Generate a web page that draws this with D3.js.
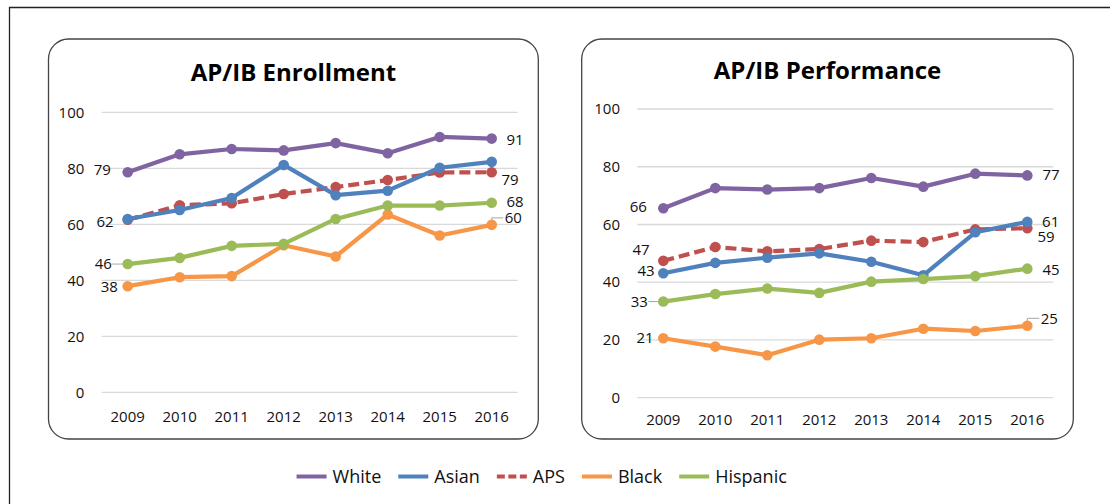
<!DOCTYPE html>
<html>
<head>
    <title>AP/IB Enrollment and Performance</title>
    <script src="https://d3js.org/d3.v7.min.js"></script>
    <style>
        body { margin: 0; background: #fff; }
        text { font-family: "Open Sans", sans-serif; fill: #111; }
    </style>
</head>
<body>
    <div id="chart"></div>

    <script>
        const years = ["2009", "2010", "2011", "2012", "2013", "2014", "2015", "2016"];
        const seriesNames = ["White", "Asian", "APS", "Black", "Hispanic"];
        const seriesColors = ["#8064A2", "#4F81BD", "#C0504D", "#F79646", "#9BBB59"];
        const yTicks = [0, 20, 40, 60, 80, 100];

        // AP/IB Enrollment (%)
        const enrollWhite    = [78.6, 85.0, 86.9, 86.4, 89.0, 85.4, 91.2, 90.6];
        const enrollAsian    = [61.9, 65.1, 69.4, 81.2, 70.4, 72.0, 80.2, 82.3];
        const enrollAPS      = [61.6, 66.8, 67.5, 70.8, 73.3, 75.8, 78.5, 78.6];
        const enrollBlack    = [37.9, 41.1, 41.5, 52.5, 48.5, 63.5, 56.0, 59.8];
        const enrollHispanic = [45.8, 48.0, 52.3, 53.0, 61.9, 66.7, 66.7, 67.7];

        // AP/IB Performance (%)
        const perfWhite    = [65.6, 72.6, 72.1, 72.6, 76.1, 73.1, 77.6, 77.0];
        const perfAsian    = [43.1, 46.7, 48.5, 50.0, 47.1, 42.4, 57.3, 60.9];
        const perfAPS      = [47.4, 52.2, 50.7, 51.5, 54.4, 53.9, 58.3, 58.7];
        const perfBlack    = [20.6, 17.7, 14.7, 20.1, 20.6, 23.9, 23.1, 24.9];
        const perfHispanic = [33.3, 35.9, 37.8, 36.3, 40.2, 41.1, 42.1, 44.7];

        const W = 1110, H = 504;

        const svg = d3.select("#chart").append("svg")
            .attr("width", W)
            .attr("height", H);

        // outer frame (open on the right and bottom)
        svg.append("path")
            .attr("d", "M9.5,504 V7.5 H1110")
            .attr("fill", "none")
            .attr("stroke", "#222")
            .attr("stroke-width", 1.3);

        // draw order: APS under Asian
        const drawOrder = [0, 2, 1, 3, 4];

        // label placement: [series index, which end, dx, dy, leader]
        const charts = [
            {
                title: "AP/IB Enrollment",
                series: [enrollWhite, enrollAsian, enrollAPS, enrollBlack, enrollHispanic],
                panel: {x: 48.5, y: 39, w: 489.8, h: 400},
                titleY: 80.5,
                xRange: [101.7, 517.7],
                yRange: [392.3, 112.3],
                tickX: 84.3,
                axisY: 421.5,
                labels: [
                    [0, 0, -25.4, -2, null], [2, 0, -22.7, 2, null],
                    [4, 0, -24.4, 0, "h"], [3, 0, -18.4, 0.5, null],
                    [0, 7, 23.3, 1.4, null], [2, 7, 18.3, 8, null],
                    [4, 7, 23.3, -0.5, null], [3, 7, 21.6, -7, "l"]
                ]
            },
            {
                title: "AP/IB Performance",
                series: [perfWhite, perfAsian, perfAPS, perfBlack, perfHispanic],
                panel: {x: 581.7, y: 39, w: 491.6, h: 400},
                titleY: 78.5,
                xRange: [637.3, 1053.3],
                yRange: [397.7, 109],
                tickX: 620,
                axisY: 425,
                labels: [
                    [0, 0, -25, -1.6, null], [2, 0, -22.3, -11.6, null],
                    [1, 0, -17.3, -2.3, null], [4, 0, -24, 0, "h"],
                    [3, 0, -18.3, -0.5, null],
                    [0, 7, 23.7, -1, null], [1, 7, 23.4, 0.3, null],
                    [2, 7, 18.7, 8.5, null], [4, 7, 23.7, 1.4, null],
                    [3, 7, 22, -7.5, "l"]
                ]
            }
        ];

        charts.forEach(c => {
            const g = svg.append("g");

            g.append("rect")
                .attr("x", c.panel.x).attr("y", c.panel.y)
                .attr("width", c.panel.w).attr("height", c.panel.h)
                .attr("rx", 20).attr("ry", 20)
                .attr("fill", "#fff")
                .attr("stroke", "#444")
                .attr("stroke-width", 1.3);

            g.append("text")
                .attr("x", c.panel.x + c.panel.w / 2)
                .attr("y", c.titleY)
                .attr("text-anchor", "middle")
                .style("font-size", "24px")
                .style("font-weight", "bold")
                .style("fill", "#000")
                .text(c.title);

            const x = d3.scaleBand()
                .domain(years)
                .range(c.xRange);
            const y = d3.scaleLinear()
                .domain([0, 100])
                .range(c.yRange);
            const cx = d => x(d) + x.bandwidth() / 2;

            // gridlines
            g.selectAll(".grid")
                .data(yTicks)
                .enter().append("line")
                .attr("x1", c.xRange[0]).attr("x2", c.xRange[1])
                .attr("y1", d => y(d)).attr("y2", d => y(d))
                .attr("stroke", "#d9d9d9")
                .attr("stroke-width", 1.3);

            // y tick labels
            g.selectAll(".ytick")
                .data(yTicks)
                .enter().append("text")
                .attr("x", c.tickX)
                .attr("y", d => y(d))
                .attr("dy", "0.35em")
                .attr("text-anchor", "end")
                .style("font-size", "15px")
                .text(d => d);

            // x tick labels
            g.selectAll(".xtick")
                .data(years)
                .enter().append("text")
                .attr("x", d => cx(d))
                .attr("y", c.axisY)
                .attr("text-anchor", "middle")
                .style("font-size", "15px")
                .text(d => d);

            const line = d3.line()
                .x((d, i) => cx(years[i]))
                .y(d => y(d));

            // leader lines (drawn under markers)
            c.labels.forEach(([s, i, dx, dy, leader]) => {
                if (!leader) return;
                const px = cx(years[i]), py = y(c.series[s][i]);
                if (leader === "h") {
                    g.append("line")
                        .attr("x1", px + dx + 9).attr("x2", px)
                        .attr("y1", py + dy).attr("y2", py + dy)
                        .attr("stroke", "#a6a6a6").attr("stroke-width", 1);
                } else {
                    g.append("path")
                        .attr("d", `M${px},${py} V${py + dy} H${px + dx - 10}`)
                        .attr("fill", "none")
                        .attr("stroke", "#a6a6a6").attr("stroke-width", 1);
                }
            });

            drawOrder.forEach(s => {
                const vals = c.series[s];
                g.append("path")
                    .datum(vals)
                    .attr("fill", "none")
                    .attr("stroke", seriesColors[s])
                    .attr("stroke-width", 4.2)
                    .attr("stroke-linejoin", "round")
                    .attr("stroke-dasharray", seriesNames[s] === "APS" ? "11,5" : null)
                    .attr("d", line);

                g.selectAll(".pt" + s)
                    .data(vals)
                    .enter().append("circle")
                    .attr("cx", (d, i) => cx(years[i]))
                    .attr("cy", d => y(d))
                    .attr("r", 5.3)
                    .attr("fill", seriesColors[s]);
            });

            // data labels
            c.labels.forEach(([s, i, dx, dy]) => {
                const v = c.series[s][i];
                g.append("text")
                    .attr("x", cx(years[i]) + dx)
                    .attr("y", y(v) + dy)
                    .attr("dy", "0.35em")
                    .attr("text-anchor", "middle")
                    .style("font-size", "15px")
                    .text(Math.round(v));
            });
        });

        // legend
        const legend = svg.append("g");
        const legendY = 476.5;
        let lx = 0;
        seriesNames.forEach((name, s) => {
            const item = legend.append("g").attr("transform", `translate(${lx},0)`);
            item.append("line")
                .attr("x1", 0).attr("x2", 30)
                .attr("y1", legendY).attr("y2", legendY)
                .attr("stroke", seriesColors[s])
                .attr("stroke-width", 4)
                .attr("stroke-dasharray", name === "APS" ? "8,3.5" : null);
            const t = item.append("text")
                .attr("x", 36)
                .attr("y", legendY)
                .attr("dy", "0.35em")
                .style("font-size", "18px")
                .text(name);
            lx += 36 + t.node().getComputedTextLength() + 17;
        });
        const legendW = lx - 17;
        legend.attr("transform", `translate(${541.7 - legendW / 2},0)`);
    </script>
</body>
</html>
